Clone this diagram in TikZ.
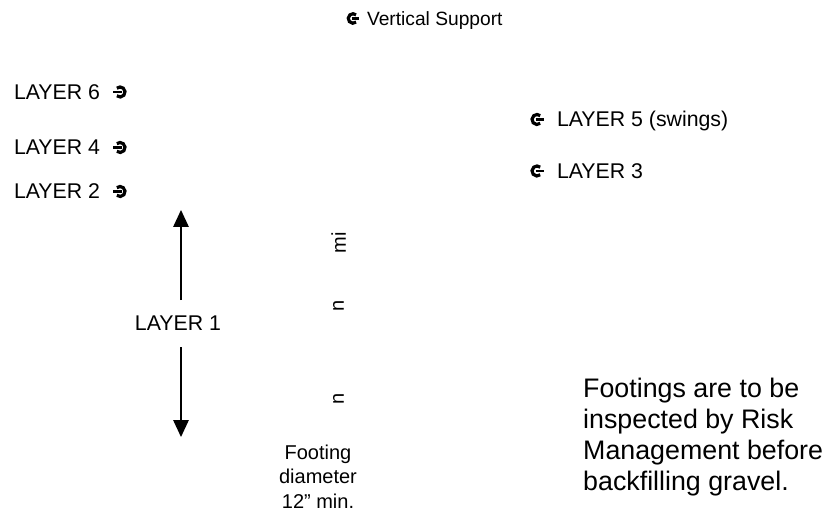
\documentclass[tikz,border=0pt]{standalone}
\usepackage{fontspec}
\setmainfont{Liberation Sans}
\usetikzlibrary{arrows.meta,calc}
\begin{document}
\begin{tikzpicture}[x=1bp,y=-1bp,
  lbl/.style={inner sep=0pt,outer sep=0pt,font=\fontsize{21.3bp}{25bp}\selectfont},
  hookL/.pic={\draw[line width=3.2bp] (50:5) arc (50:310:5);
              \draw[line width=2.8bp] (-1.5,0) -- (6.6,0);},
  hookR/.pic={\draw[line width=3.2bp] (130:5) arc (130:-130:5);
              \draw[line width=2.8bp] (1.5,0) -- (-6.6,0);},
  arr/.style={line width=1.5bp,-{Triangle[length=17bp,width=15.5bp]}}
]
\fill[white] (0,0) rectangle (825,517);
\useasboundingbox (0,0) rectangle (825,517);

% top label
\node[lbl,anchor=base west,font=\fontsize{19.2bp}{22bp}\selectfont] (vs) at (367,25.5) {Vertical Support};
\pic[scale=0.95] at (353,18.5) {hookL};

% left layers
\node[lbl,anchor=base west] (l6) at (14,99.5) {LAYER 6};
\node[lbl,anchor=base west] (l4) at (14,155) {LAYER 4};
\node[lbl,anchor=base west] (l2) at (14,199) {LAYER 2};
\pic at ($(l6.base east)+(20,-7.5)$) {hookR};
\pic at ($(l4.base east)+(20,-7.5)$) {hookR};
\pic at ($(l2.base east)+(20,-7.5)$) {hookR};

% right layers
\node[lbl,anchor=base west] (l5) at (557,127) {LAYER 5 (swings)};
\node[lbl,anchor=base west] (l3) at (557,178.5) {LAYER 3};
\pic at ($(l5.base west)+(-20,-7.5)$) {hookL};
\pic at ($(l3.base west)+(-20,-7.5)$) {hookL};

% layer 1 and arrows
\node[lbl,anchor=base] (l1) at (178,330.5) {LAYER 1};
\coordinate (upS) at (181,300);
\coordinate (upT) at (181,210);
\coordinate (dnS) at (181,347);
\coordinate (dnT) at (181,437);
\draw[arr] (upS) -- (upT);
\draw[arr] (dnS) -- (dnT);

% rotated fragments
\node[inner sep=0pt,rotate=90,font=\fontsize{20bp}{22bp}\selectfont] (r1) at (338.5,242.5) {mi};
\node[inner sep=0pt,rotate=90,font=\fontsize{20bp}{22bp}\selectfont] (r2) at (338.5,306) {n};
\node[inner sep=0pt,rotate=90,font=\fontsize{20bp}{22bp}\selectfont] (r3) at (338.5,399) {n};

% footing
\node[inner sep=0pt,align=center,anchor=north,font=\fontsize{20bp}{24.2bp}\selectfont] (ft) at (318,445)
  {Footing\\diameter\\12” min.};

% note
\node[inner sep=0pt,align=left,anchor=north west,font=\fontsize{26.8bp}{31bp}\selectfont] (note) at (583,378)
  {Footings are to be\\inspected by Risk\\Management before\\backfilling gravel.};
\end{tikzpicture}
\end{document}
